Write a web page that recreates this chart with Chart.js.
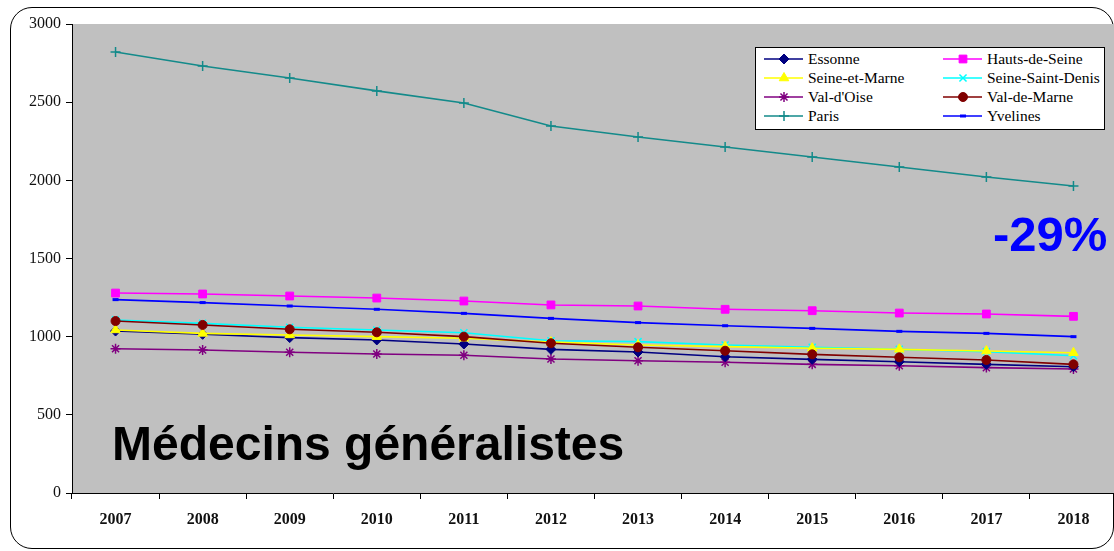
<!DOCTYPE html>
<html lang="fr">
<head>
<meta charset="utf-8">
<title>Médecins généralistes</title>
<script src="https://cdn.jsdelivr.net/npm/chart.js@4.4.0/dist/chart.umd.min.js"></script>
<style>
  html, body { margin: 0; padding: 0; background: #fff; }
  #wrap { position: relative; width: 1114px; height: 551px; overflow: hidden; }
  #frame { position: absolute; left: 10px; top: 7px; width: 1104px; height: 542px;
           border: 1px solid #000; border-radius: 22px; box-sizing: border-box; }
  #chart { position: absolute; left: 0; top: 0; }
  #legend { position: absolute; left: 755px; top: 47px; width: 350px; height: 83px;
            background: #fff; border: 1px solid #000; box-sizing: border-box;
            font-family: "Liberation Serif", "Times New Roman", serif; font-size: 15.5px; color: #000; }
  .item { position: absolute; height: 18px; line-height: 18px; white-space: nowrap;
          font-family: "Liberation Serif", "Times New Roman", serif; }
  .item canvas { position: absolute; left: 0; top: 3px; }
  .item span { position: absolute; left: 44px; top: 0; }
  #titre { position: absolute; left: 112px; top: 416px; font-family: "Liberation Sans", Arial, sans-serif;
           font-weight: bold; font-size: 48px; color: #000; white-space: nowrap; }
  #pct { position: absolute; left: 993px; top: 206px; font-family: "Liberation Sans", Arial, sans-serif;
         font-weight: bold; font-size: 49px; color: #0000ff; white-space: nowrap; }
</style>
</head>
<body>
<div id="wrap">
  <div id="frame"></div>
  <canvas id="chart" width="1124" height="551"></canvas>
  <div id="legend"></div>
  <div id="titre">Médecins généralistes</div>
  <div id="pct">-29%</div>
</div>
<script>
const annees = ['2007','2008','2009','2010','2011','2012','2013','2014','2015','2016','2017','2018'];

const essonne         = [1036, 1015, 994, 979, 953, 919, 902, 872, 855, 840, 823, 808];
const hautsDeSeine    = [1279, 1273, 1260, 1247, 1228, 1203, 1196, 1175, 1166, 1151, 1145, 1130];
const seineEtMarne    = [1043, 1021, 1011, 1000, 990, 965, 947, 936, 926, 919, 908, 897];
const seineSaintDenis = [1107, 1085, 1060, 1043, 1025, 974, 968, 947, 932, 919, 904, 878];
const valDOise        = [923, 915, 900, 889, 881, 857, 846, 836, 823, 814, 802, 793];
const valDeMarne      = [1100, 1075, 1047, 1028, 1000, 958, 932, 910, 887, 868, 851, 823];
const paris           = [2821, 2731, 2655, 2572, 2495, 2348, 2277, 2213, 2149, 2085, 2021, 1964];
const yvelines        = [1237, 1218, 1196, 1175, 1149, 1117, 1090, 1070, 1053, 1034, 1021, 1000];

const yTicks = [0, 500, 1000, 1500, 2000, 2500, 3000];

function serie(label, data, color, style, radius, order) {
  let bw = 1;
  if (style === 'cross' || style === 'crossRot' || style === 'star') bw = 1.5;
  if (style === 'line') bw = 3;
  return {
    label, data, order,
    borderColor: color,
    backgroundColor: color,
    pointBorderColor: color,
    pointBackgroundColor: color,
    borderWidth: 1.6,
    pointStyle: style,
    pointRadius: radius,
    pointBorderWidth: bw,
    tension: 0,
    fill: false
  };
}

const datasets = [
  serie('Essonne', essonne, '#000080', 'rectRot', 5, 3),
  serie('Hauts-de-Seine', hautsDeSeine, '#ff00ff', 'rect', 5.5, 4),
  serie('Seine-et-Marne', seineEtMarne, '#ffff00', 'triangle', 5.5, 2),
  serie('Seine-Saint-Denis', seineSaintDenis, '#00ffff', 'crossRot', 5, 5),
  serie("Val-d'Oise", valDOise, '#800080', 'star', 5, 6),
  serie('Val-de-Marne', valDeMarne, '#800000', 'circle', 4.5, 1),
  serie('Paris', paris, '#138a8a', 'cross', 5, 7),
  serie('Yvelines', yvelines, '#0000ff', 'line', 3, 8)
];

const fondGris = {
  id: 'fondGris',
  beforeDraw(chart) {
    const a = chart.chartArea, ctx = chart.ctx;
    ctx.save();
    ctx.fillStyle = '#c0c0c0';
    ctx.fillRect(a.left, a.top, a.right - a.left, a.bottom - a.top);
    ctx.restore();
  }
};

const chart = new Chart(document.getElementById('chart'), {
  type: 'line',
  data: { labels: annees, datasets },
  plugins: [fondGris],
  options: {
    responsive: false,
    animation: false,
    layout: { padding: { top: 24, left: 0, right: 0, bottom: 0 } },
    plugins: { legend: { display: false }, tooltip: { enabled: false } },
    scales: {
      x: {
        offset: true,
        grid: { offset: true, drawOnChartArea: false, drawTicks: true, tickLength: 6, color: '#000' },
        border: { color: '#000', width: 1 },
        ticks: { font: { family: '"Liberation Serif", serif', size: 16, weight: 'bold' }, color: '#111', padding: 11, maxRotation: 0 },
        afterFit(s) { s.height = 58; }
      },
      y: {
        min: 0, max: 3000,
        afterBuildTicks(s) { s.ticks = yTicks.map(v => ({ value: v })); },
        grid: { drawOnChartArea: false, drawTicks: true, tickLength: 6, color: '#000' },
        border: { color: '#000', width: 1 },
        ticks: { font: { family: '"Liberation Serif", serif', size: 16 }, color: '#111', padding: 5,
                 callback: v => String(v) },
        afterFit(s) { s.width = 72; }
      }
    }
  }
});

// legende sur deux colonnes
const legende = document.getElementById('legend');
const cols = [8, 187];
datasets.forEach((ds, i) => {
  const item = document.createElement('div');
  item.className = 'item';
  item.style.left = cols[i % 2] + 'px';
  item.style.top = (2 + Math.floor(i / 2) * 19) + 'px';
  const c = document.createElement('canvas');
  c.width = 40; c.height = 12;
  const ctx = c.getContext('2d');
  ctx.strokeStyle = ds.borderColor;
  ctx.lineWidth = 1.6;
  ctx.beginPath(); ctx.moveTo(0, 6); ctx.lineTo(39, 6); ctx.stroke();
  ctx.fillStyle = ds.pointBackgroundColor;
  ctx.strokeStyle = ds.pointBorderColor;
  ctx.lineWidth = ds.pointBorderWidth;
  Chart.helpers.drawPoint(ctx, { pointStyle: ds.pointStyle, radius: ds.pointRadius, rotation: 0, borderWidth: ds.pointBorderWidth }, 20, 6);
  const t = document.createElement('span');
  t.textContent = ds.label;
  item.appendChild(c);
  item.appendChild(t);
  legende.appendChild(item);
});
</script>
</body>
</html>
